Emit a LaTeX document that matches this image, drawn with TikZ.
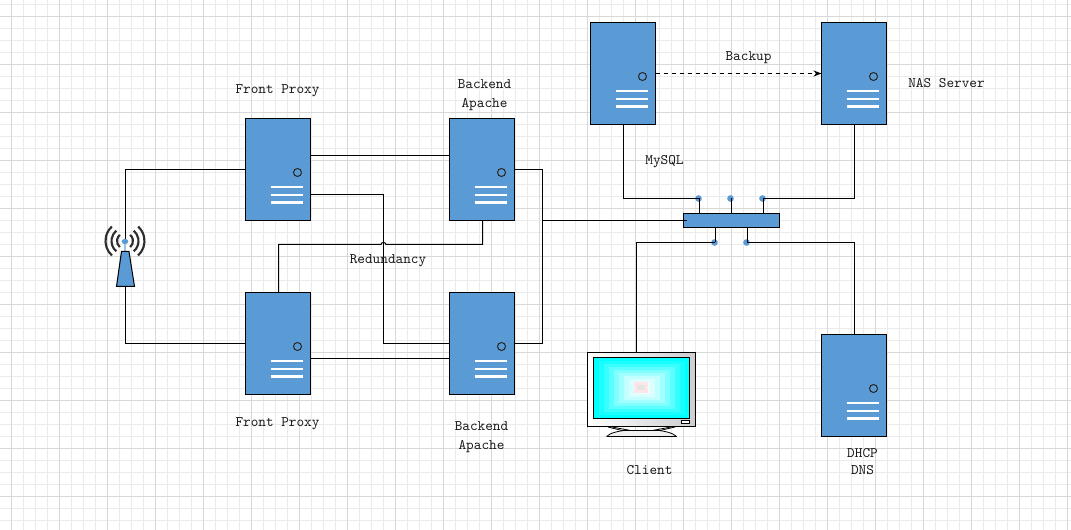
\documentclass[tikz,border=0pt]{standalone}
\usetikzlibrary{calc,arrows.meta}
\definecolor{srv}{HTML}{5B9BD5}
\definecolor{gridminor}{HTML}{EBEBEB}
\definecolor{gridmajor}{HTML}{D8D8D8}
\definecolor{scr}{RGB}{0,255,255}
\definecolor{bezel}{RGB}{205,205,205}
\tikzset{
  link/.style={draw=black,line width=0.75pt},
  serverbox/.style={draw=black,fill=srv,line width=0.75pt,rectangle,inner sep=0pt,outer sep=0pt,minimum width=48.75pt,minimum height=76.5pt,anchor=north west},
  switchbox/.style={draw=black,fill=srv,line width=0.75pt,rectangle,inner sep=0pt,outer sep=0pt,minimum width=72pt,minimum height=10.5pt,anchor=north west},
  port/.style={circle,fill=srv,inner sep=0pt,minimum size=5pt},
  lbl/.style={font=\ttfamily\fontsize{10.9}{14}\selectfont,text=black!90,inner sep=0pt,align=center},
}
\newcommand{\srvnode}[3]{%
  \node[serverbox] (#1) at (#2,#3) {};
  \begin{scope}[shift={(#2,#3)}]
    \draw[line width=0.75pt,black!85] (52,54) circle (4);
    \draw[white,line width=1.8pt] (25,68.5) -- (57,68.5) (25,76.5) -- (57,76.5) (25,84) -- (57,84);
  \end{scope}}
\begin{document}
\begin{tikzpicture}[x=0.75pt,y=-0.75pt]
\useasboundingbox (0,0) rectangle (1071,530);
\fill[white] (0,0) rectangle (1071,530);
% grid
\foreach \x in {-1,11,...,1071}{\draw[gridminor,line width=0.75pt] (\x.5,0) -- (\x.5,530);}
\foreach \y in {4,16,...,530}{\draw[gridminor,line width=0.75pt] (0,\y.5) -- (1071,\y.5);}
\foreach \x in {11,59,...,1071}{\draw[gridmajor,line width=0.75pt] (\x.5,0) -- (\x.5,530);}
\foreach \y in {16,64,...,530}{\draw[gridmajor,line width=0.75pt] (0,\y.5) -- (1071,\y.5);}
% connector anchors
\coordinate (anttop) at (125.5,241);
\coordinate (antbot) at (125.5,286);
\coordinate (clienttop) at (636.5,352.5);
\coordinate (bus) at (542.5,220.5);
% switch ports
\node[port] (pa) at (698.5,198.5) {};
\node[port] (pb) at (730.5,198.5) {};
\node[port] (pc) at (762.5,198.5) {};
\node[port] (pd) at (714.5,242.5) {};
\node[port] (pe) at (746.5,242.5) {};
% connectors
\draw[link] (anttop) |- (245.5,169.5);
\draw[link] (antbot) |- (245.5,343.5);
\draw[link] (310.5,155.5) -- (449.5,155.5);
\draw[link] (310.5,194.5) -| (383.5,343.5) -- (449.5,343.5);
\draw[link] (482.5,220.5) -- (482.5,244.5) -- (386,244.5) arc[start angle=0,end angle=180,x radius=2.5,y radius=-2] -- (278.5,244.5) -- (278.5,292.5);
\draw[link] (310.5,358.5) -- (449.5,358.5);
\draw[link] (514.5,169.5) -- (542.5,169.5) -- (542.5,343.5) -- (514.5,343.5);
\draw[link] (bus) -- (683.5,220.5);
\draw[link] (623.5,124.5) |- (pa.center);
\draw[link] (854.5,124.5) |- (pc.center);
\draw[link] (clienttop) |- (pd.center);
\draw[link] (854.5,334.5) |- (pe.center);
\draw[link] (699.5,213.5) -- (699.5,198.5) (731.5,213.5) -- (731.5,198.5) (763.5,213.5) -- (763.5,198.5);
\draw[link] (715.5,227.5) -- (715.5,242.5) (747.5,227.5) -- (747.5,242.5);
\draw[link,dash pattern=on 3.5pt off 2.5pt,-{Stealth[length=6pt,width=4.5pt]}] (655.5,73.5) -- (821.5,73.5);
% servers
\srvnode{fpa}{245.5}{118.5}
\srvnode{baa}{449.5}{118.5}
\srvnode{fpb}{245.5}{292.5}
\srvnode{bab}{449.5}{292.5}
\srvnode{db}{590.5}{22.5}
\srvnode{nas}{821.5}{22.5}
\srvnode{dhcp}{821.5}{334.5}
\node[switchbox] (sw) at (683.5,213.5) {};
\draw[link] (683.5,220.5) -- (687,220.5);
% antenna
\draw[black!82,line width=1.6pt]
  (125,241) ++(130:8) arc[start angle=130,end angle=230,radius=8]
  (125,241) ++(50:8) arc[start angle=50,end angle=-50,radius=8]
  (125,241) ++(130:13.5) arc[start angle=130,end angle=230,radius=13.5]
  (125,241) ++(50:13.5) arc[start angle=50,end angle=-50,radius=13.5]
  (125,241) ++(132:19.5) arc[start angle=132,end angle=228,radius=19.5]
  (125,241) ++(48:19.5) arc[start angle=48,end angle=-48,radius=19.5];
\draw[srv!60,line width=1.5pt] (125,241) -- (125,252);
\fill[srv] (125,241.5) ellipse (3.3 and 2.6);
\filldraw[fill=srv,draw=black,line width=0.75pt] (121.5,251.5) -- (129,251.5) -- (134.5,286.5) -- (116.5,286.5) -- cycle;
% monitor
\draw[left color=white,right color=bezel,draw=black,line width=0.75pt] (587.5,352.5) rectangle (695.5,426.5);
\fill[black!6] (606.5,436.5) .. controls (612,432) and (618,431) .. (624,430.5) -- (660,430.5) .. controls (666,431) and (672,432) .. (676.5,436.5) -- cycle;
\draw[black,line width=0.6pt] (606.5,436.5) .. controls (610,433) and (618,431) .. (628,430) -- (612,427);
\draw[black,line width=0.6pt] (676.5,436.5) .. controls (673,433) and (665,431) .. (655,430) -- (671,427);
\draw[black,line width=0.6pt] (608,427) -- (622,430.5) -- (660,430.5) -- (675,427);
\draw[black,line width=0.75pt] (606.5,436.5) -- (676.5,436.5);
\fill[scr] (593.5,357.5) rectangle (689.5,418.5);
\foreach \i/\c in {1/10,2/22,3/36,4/50,5/64,6/76,7/86,8/92}{
  \fill[white!\c!scr] ({593.5+5*\i},{357.5+3.1*\i}) rectangle ({689.5-5*\i},{418.5-3.1*\i});
}
\fill[red!10!white] (634,382) rectangle (648,393);
\fill[black!10] (637,385) rectangle (645,390);
\draw[black,line width=0.75pt] (593.5,357.5) rectangle (689.5,418.5);
\draw[black,fill=white,line width=0.6pt] (681.5,420.5) rectangle (689.5,423);
% labels
\node[lbl] (t1) at (277.5,90.5) {Front Proxy};
\node[lbl] (t2) at (484.5,95) {Backend\\[0.2pt]Apache};
\node[lbl] (t3) at (946.5,83) {NAS Server};
\node[lbl] (t4) at (748.5,58) {Backup};
\node[lbl] (t5) at (664.5,161.5) {MySQL};
\node[lbl] (t6) at (388,260.5) {Redundancy};
\node[lbl] (t7) at (277.5,424) {Front Proxy};
\node[lbl] (t8) at (481.5,437.5) {Backend\\[0.2pt]Apache};
\node[lbl] (t9) at (649.5,470) {Client};
\node[lbl] (t10) at (862.5,461.5) {DHCP\\[-0.6pt]DNS};
\end{tikzpicture}
\end{document}
